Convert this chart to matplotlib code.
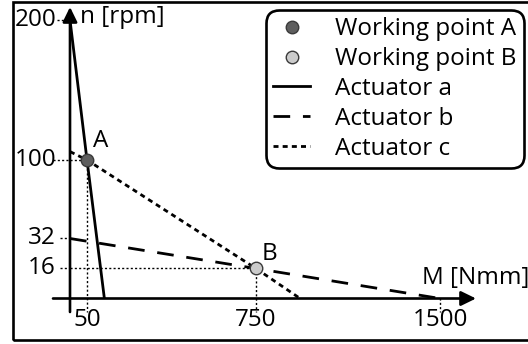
import numpy as np
import matplotlib
matplotlib.use("Agg")
import matplotlib.pyplot as plt
from matplotlib.lines import Line2D
from matplotlib.patches import Rectangle

plt.rcParams['font.family'] = ['Open Sans', 'DejaVu Sans']
FS = 17.5

# ---------------- data ----------------
point_labels = ["A", "B"]
point_M = [50, 750]
point_n = [100, 16]
point_colors = ["#5e5e5e", "#cbcbcb"]
label_offsets = [(14, 19), (14, 14)]

act_a_M = [0, 50, 122]
act_a_n = [200, 100, 0]
act_b_M = [0, 750, 1500]
act_b_n = [32, 16, 0]
act_c_M = [0, 50, 750, 930]
act_c_n = [106, 100, 16, 0]

x_ticks = [50, 750, 1500]
y_ticks = [16, 32, 100, 200]
legend_labels = ["Working point A", "Working point B",
                 "Actuator a", "Actuator b", "Actuator c"]

# schematic (non-proportional) axis mapping: value -> pixel
XK_V = [-1000, 0, 50, 750, 1500, 5000]
XK_P = [-290, 70, 87, 256, 440, 1299]
YK_V = [-1000, 0, 16, 32, 100, 200, 2000]
YK_P = [-1830, 45.5, 75.5, 105.5, 184, 324, 2826]


def fx(v):
    return np.interp(v, XK_V, XK_P)


def fxi(p):
    return np.interp(p, XK_P, XK_V)


def fy(v):
    return np.interp(v, YK_V, YK_P)


def fyi(p):
    return np.interp(p, YK_P, YK_V)


W, H = 528, 344
fig = plt.figure(figsize=(W / 100, H / 100), dpi=100)
ax = fig.add_axes([0, 0, 1, 1])
ax.set_xscale('function', functions=(fx, fxi))
ax.set_yscale('function', functions=(fy, fyi))
ax.set_xlim(fxi(0), fxi(W))
ax.set_ylim(fyi(0), fyi(H))
ax.axis('off')

# figure border (open on the right, as in the reference)
fig.patches.append(Rectangle((12.5 / W, 4.5 / H), 2.0, (342.5 - 4.5) / H,
                             transform=fig.transFigure, fill=False,
                             lw=1.9, ec='black', zorder=0))

# axes arrows
arrow_kw = dict(arrowstyle='-|>,head_length=0.45,head_width=0.22',
                mutation_scale=20, lw=1.9, color='black',
                shrinkA=0, shrinkB=0)
ax.annotate("", xy=(fxi(476), 0), xytext=(fxi(53), 0), arrowprops=arrow_kw)
ax.annotate("", xy=(0, fyi(H - 7)), xytext=(0, fyi(H - 312)), arrowprops=arrow_kw)

# helper dotted lines
hl = dict(color='black', lw=1.0, dashes=(1.5, 1.6), zorder=2)
y_bottom = fyi(H - 312)
for v, px in zip(y_ticks, [60, 60, 53, 57]):
    ax.plot([fxi(px), 0], [v, v], **hl)
ax.plot([0, point_M[0]], [point_n[0], point_n[0]], **hl)
ax.plot([0, point_M[1]], [point_n[1], point_n[1]], **hl)
for m, n in zip(point_M, point_n):
    ax.plot([m, m], [n, y_bottom], **hl)
ax.plot([x_ticks[2], x_ticks[2]], [0, y_bottom], **hl)

# actuators
ax.plot(act_a_M, act_a_n, color='black', lw=2.0, solid_capstyle='butt', zorder=3)
ax.plot(act_b_M, act_b_n, color='black', lw=2.0, dashes=(6, 4.6), zorder=3)
ax.plot(act_c_M, act_c_n, color='black', lw=2.0, dashes=(1.8, 1.5), zorder=3)

# working points
for m, n, c, lab, off in zip(point_M, point_n, point_colors, point_labels, label_offsets):
    ax.plot([m], [n], ls='none', marker='o', ms=9, mfc=c, mec='#3a3a3a',
            mew=1.0, zorder=5)
    ax.annotate(lab, xy=(m, n), xytext=off, textcoords='offset pixels',
                ha='center', va='center', fontsize=FS)

# tick labels
for v in y_ticks:
    ax.annotate(str(v), xy=(0, v), xytext=(-14, 0), textcoords='offset pixels',
                ha='right', va='center', fontsize=FS)
for v in x_ticks:
    ax.annotate(str(v), xy=(v, 0), xytext=(0, -22), textcoords='offset pixels',
                ha='center', va='center', fontsize=FS)

# axis labels
ax.annotate("n [rpm]", xy=(0, 200), xytext=(10, 3), textcoords='offset pixels',
            ha='left', va='center', fontsize=FS)
ax.annotate("M [Nmm]", xy=(1500, 0), xytext=(-18, 20), textcoords='offset pixels',
            ha='left', va='center', fontsize=FS)

# legend
handles = [
    Line2D([], [], ls='none', marker='o', ms=9, mfc=point_colors[0], mec='#3a3a3a', mew=1.0),
    Line2D([], [], ls='none', marker='o', ms=9, mfc=point_colors[1], mec='#3a3a3a', mew=1.0),
    Line2D([], [], color='black', lw=2.0),
    Line2D([], [], color='black', lw=2.0, dashes=(6, 4.6)),
    Line2D([], [], color='black', lw=2.0, dashes=(1.8, 1.5)),
]
leg = ax.legend(handles, legend_labels, loc='upper left',
                bbox_to_anchor=(266 / W, 1 - 10 / H), bbox_transform=fig.transFigure,
                borderaxespad=0, fontsize=FS, handlelength=1.5, handletextpad=1.05,
                labelspacing=0.24, borderpad=0.3, frameon=True, fancybox=True)
fr = leg.get_frame()
fr.set_edgecolor('black')
fr.set_linewidth(1.9)
fr.set_alpha(1)
fr.set_boxstyle('round', pad=0, rounding_size=0.55)

fig.savefig("out.png", dpi=100)
